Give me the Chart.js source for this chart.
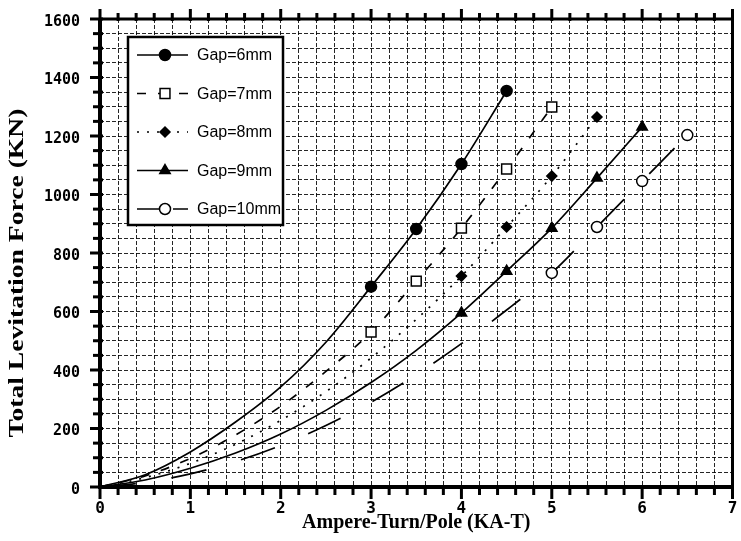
<!DOCTYPE html>
<html>
<head>
<meta charset="utf-8">
<title>Total Levitation Force</title>
<script src="https://cdn.jsdelivr.net/npm/chart.js@4.4.1/dist/chart.umd.min.js"></script>
<style>
  html, body { margin: 0; padding: 0; background: #fff; }
  #wrap { width: 741px; height: 541px; position: relative; }
</style>
</head>
<body>
<div id="wrap"><canvas id="forceChart"></canvas></div>
<script>
// axis ticks
const xLabels = [0, 1, 2, 3, 4, 5, 6, 7];
const yLabels = [0, 200, 400, 600, 800, 1000, 1200, 1400, 1600];

// measured points (KA-T, KN)
const gap6X = [3, 3.5, 4, 4.5];
const gap6Y = [685, 882, 1104, 1354];
const gap7X = [3, 3.5, 4, 4.5, 5];
const gap7Y = [530, 704, 885, 1087, 1299];
const gap8X = [4, 4.5, 5, 5.5];
const gap8Y = [721, 889, 1063, 1265];
const gap9X = [4, 4.5, 5, 5.5, 6];
const gap9Y = [595, 738, 885, 1056, 1231];
const gap10X = [5, 5.5, 6, 6.5];
const gap10Y = [732, 889, 1046, 1203];

// fitted curves, every 0.5 KA-T
const curveX = [0, 0.5, 1, 1.5, 2, 2.5, 3, 3.5, 4, 4.5, 5, 5.5, 6, 6.5];
const gap6Curve = [0, 42, 120, 222, 342, 495, 685, 882, 1104, 1354];
const gap7Curve = [0, 38, 98, 178, 276, 395, 530, 704, 885, 1087, 1299];
const gap8Curve = [0, 32, 81, 146, 228, 326, 441, 573, 721, 889, 1063, 1265];
const gap9Curve = [0, 24, 64, 116, 181, 262, 357, 467, 595, 738, 885, 1056, 1231];
const gap10Curve = [0, 16, 45, 87, 142, 210, 290, 384, 490, 605, 732, 889, 1046, 1203];

function toPoints(xs, ys) {
  return ys.map((y, i) => ({ x: xs[i], y: y }));
}

const series = [
  { label: 'Gap=6mm', mx: gap6X, my: gap6Y, curve: gap6Curve, dash: [], style: 'circle', fill: '#000', radius: 5.5 },
  { label: 'Gap=7mm', mx: gap7X, my: gap7Y, curve: gap7Curve, dash: [9, 12], style: 'rect', fill: '#fff', radius: 7 },
  { label: 'Gap=8mm', mx: gap8X, my: gap8Y, curve: gap8Curve, dash: [2, 8], style: 'rectRot', fill: '#000', radius: 5 },
  { label: 'Gap=9mm', mx: gap9X, my: gap9Y, curve: gap9Curve, dash: [], style: 'triangle', fill: '#000', radius: 6 },
  { label: 'Gap=10mm', mx: gap10X, my: gap10Y, curve: gap10Curve, dash: [36, 36], style: 'circle', fill: '#fff', radius: 5.5 }
];

const datasets = [];
series.forEach(s => {
  datasets.push({
    label: s.label + ' fit',
    data: toPoints(curveX, s.curve),
    showLine: true,
    pointRadius: 0,
    borderColor: '#000',
    borderWidth: 1.7,
    borderDash: s.dash,
    cubicInterpolationMode: 'monotone',
    order: 2
  });
  datasets.push({
    label: s.label,
    data: toPoints(s.mx, s.my),
    showLine: false,
    pointStyle: s.style,
    pointRadius: s.radius,
    pointBackgroundColor: s.fill,
    pointBorderColor: '#000',
    pointBorderWidth: 1.5,
    order: 1
  });
});

function drawMarker(c, s, x, y) {
  c.save();
  c.fillStyle = s.fill;
  c.strokeStyle = '#000';
  c.lineWidth = 1.5;
  c.setLineDash([]);
  Chart.helpers.drawPoint(c, { pointStyle: s.style, radius: s.radius, borderWidth: 1.5, rotation: 0 }, x, y);
  c.restore();
}

// frame and tick marks round the plot
const framePlugin = {
  id: 'frame',
  afterDraw(chart) {
    const c = chart.ctx;
    const a = chart.chartArea;
    const xs = chart.scales.x;
    const ys = chart.scales.y;
    c.save();
    c.strokeStyle = '#000';
    c.lineCap = 'butt';
    c.lineWidth = 3;
    for (let v = 0; v <= 7.001; v += 0.2) {
      const px = xs.getPixelForValue(v);
      const major = Math.abs(v - Math.round(v)) < 1e-6;
      c.beginPath();
      c.moveTo(px, a.bottom - 2);
      c.lineTo(px, a.bottom + (major ? 12 : 8));
      c.moveTo(px, a.top + 2);
      c.lineTo(px, a.top - (major ? 10 : 6));
      c.stroke();
    }
    for (let v = 0; v <= 1600; v += 50) {
      const py = ys.getPixelForValue(v);
      const major = v % 200 === 0;
      c.beginPath();
      c.moveTo(a.left + 3, py);
      c.lineTo(a.left - (major ? 10 : 7), py);
      c.stroke();
    }
    c.lineWidth = 4;
    c.beginPath();
    c.moveTo(a.left, a.top);
    c.lineTo(a.left, a.bottom);
    c.lineTo(a.right, a.bottom);
    c.stroke();
    c.lineWidth = 3;
    c.beginPath();
    c.moveTo(a.left, a.top);
    c.lineTo(a.right, a.top);
    c.lineTo(a.right, a.bottom);
    c.stroke();

    // y axis title, stretched like the scan
    c.translate(18, 273);
    c.rotate(-Math.PI / 2);
    c.scale(1.38, 1);
    c.fillStyle = '#000';
    c.font = 'bold 20px "Liberation Serif"';
    c.textAlign = 'center';
    c.textBaseline = 'middle';
    c.fillText('Total Levitation Force (KN)', 0, 0);
    c.restore();
  }
};

// legend box in the upper left of the plot
const legendPlugin = {
  id: 'boxLegend',
  afterDraw(chart) {
    const c = chart.ctx;
    const left = 128, top = 37, w = 155, h = 188;
    c.save();
    c.fillStyle = '#fff';
    c.fillRect(left, top, w, h);
    c.strokeStyle = '#000';
    c.lineWidth = 2.5;
    c.strokeRect(left, top, w, h);
    series.forEach((s, i) => {
      const y = top + 18 + i * 38.5;
      c.beginPath();
      c.lineWidth = 1.6;
      c.setLineDash(s.dash.length && s.dash[0] > 20 ? [22, 14] : s.dash);
      c.moveTo(left + 9, y);
      c.lineTo(left + 60, y);
      c.stroke();
      c.setLineDash([]);
      drawMarker(c, s, left + 37, y);
      c.fillStyle = '#000';
      c.font = '16px "Liberation Sans"';
      c.textAlign = 'left';
      c.textBaseline = 'middle';
      c.fillText(s.label, left + 69, y + 1);
    });
    c.restore();
  }
};

const chart = new Chart(document.getElementById('forceChart'), {
  type: 'scatter',
  data: { datasets: datasets },
  options: {
    responsive: true,
    maintainAspectRatio: false,
    animation: false,
    layout: { padding: { top: 19, right: 6, left: 0, bottom: 0 } },
    plugins: {
      legend: { display: false },
      tooltip: { enabled: false }
    },
    scales: {
      x: {
        type: 'linear',
        min: xLabels[0],
        max: xLabels[xLabels.length - 1],
        afterFit(scale) {
          scale.height = 54;
          scale.paddingLeft = 0;
          scale.paddingRight = 0;
        },
        ticks: {
          stepSize: 0.2,
          autoSkip: false,
          maxRotation: 0,
          padding: 12,
          color: '#000',
          font: { family: 'DejaVu Sans Mono', size: 16, weight: 'bold' },
          callback: function (value) {
            const r = Math.round(value);
            return Math.abs(value - r) < 1e-6 && xLabels.includes(r) ? String(r) : '';
          }
        },
        grid: { color: 'rgba(0,0,0,0.85)', lineWidth: 1, drawTicks: false },
        border: { display: false, dash: [4, 2] },
        title: {
          display: true,
          text: 'Ampere-Turn/Pole (KA-T)',
          color: '#000',
          font: { family: 'Liberation Serif', size: 20, weight: 'bold' },
          padding: { top: 0, bottom: 6 }
        }
      },
      y: {
        type: 'linear',
        min: yLabels[0],
        max: yLabels[yLabels.length - 1],
        afterFit(scale) {
          scale.width = 100;
          scale.paddingTop = 0;
          scale.paddingBottom = 0;
        },
        ticks: {
          stepSize: 50,
          autoSkip: false,
          padding: 20,
          labelOffset: 3,
          color: '#000',
          font: { family: 'DejaVu Sans Mono', size: 15, weight: 'bold' },
          callback: function (value) {
            return yLabels.includes(value) ? String(value) : '';
          }
        },
        grid: { color: 'rgba(0,0,0,0.85)', lineWidth: 1, drawTicks: false },
        border: { display: false, dash: [4, 2] },
        title: { display: false }
      }
    }
  },
  plugins: [framePlugin, legendPlugin]
});
</script>
</body>
</html>
